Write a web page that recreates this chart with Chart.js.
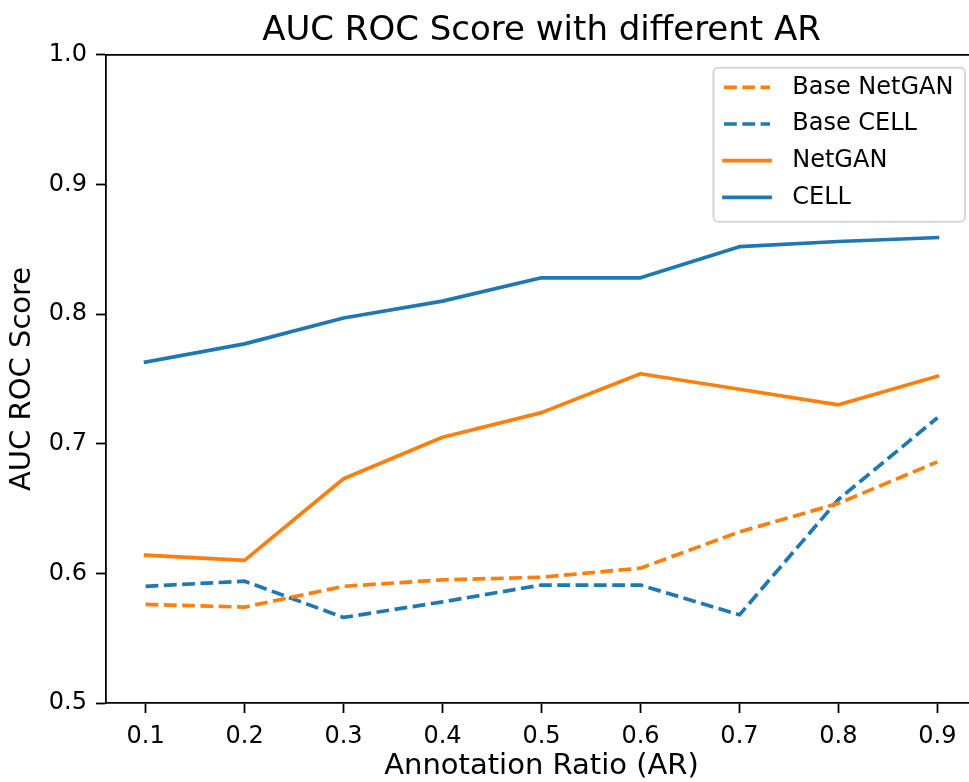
<!DOCTYPE html>
<html>
<head>
<meta charset="utf-8">
<title>AUC ROC Score with different AR</title>
<script src="https://cdn.jsdelivr.net/npm/chart.js@4.4.1/dist/chart.umd.min.js"></script>
<style>
  html, body { margin: 0; padding: 0; background: #fff; overflow: hidden; }
  #wrap { width: 969px; height: 782px; overflow: hidden; position: relative; }
  #chart { display: block; }
</style>
</head>
<body>
<div id="wrap"><canvas id="chart" width="980" height="782"></canvas></div>
<script>
// data
const ratios = [0.1, 0.2, 0.3, 0.4, 0.5, 0.6, 0.7, 0.8, 0.9];
const baseNetgan = [0.576, 0.574, 0.590, 0.595, 0.597, 0.604, 0.632, 0.654, 0.686];
const baseCell = [0.590, 0.594, 0.566, 0.578, 0.591, 0.591, 0.568, 0.657, 0.720];
const netgan = [0.614, 0.610, 0.673, 0.705, 0.724, 0.754, 0.742, 0.730, 0.752];
const cell = [0.763, 0.777, 0.797, 0.810, 0.828, 0.828, 0.852, 0.856, 0.859];
const xTicks = [0.1, 0.2, 0.3, 0.4, 0.5, 0.6, 0.7, 0.8, 0.9];
const yTicks = [0.5, 0.6, 0.7, 0.8, 0.9, 1.0];

const ORANGE = "#ff7f0e";
const BLUE = "#1f77b4";
const LW = 3.7;
const DASH = [12.8, 5.5];

Chart.defaults.font.family = "'DejaVu Sans', sans-serif";
Chart.defaults.color = "#000";

function pts(ys) {
  return ratios.map((x, i) => ({ x: x, y: ys[i] }));
}

function line(label, ys, color, dashed) {
  return {
    label: label,
    data: pts(ys),
    borderColor: color,
    backgroundColor: color,
    borderWidth: LW,
    borderDash: dashed ? DASH : [],
    borderCapStyle: dashed ? "butt" : "square",
    borderJoinStyle: "round",
    pointRadius: 0,
    tension: 0,
    fill: false
  };
}

// top/right spines
const frame = {
  id: "frame",
  afterDraw(chart) {
    const { ctx, chartArea: a } = chart;
    ctx.save();
    ctx.strokeStyle = "#000";
    ctx.lineWidth = 1.8;
    ctx.beginPath();
    ctx.moveTo(a.left, a.top);
    ctx.lineTo(a.right, a.top);
    ctx.lineTo(a.right, a.bottom);
    ctx.stroke();
    ctx.restore();
  }
};

// matplotlib-like legend box in the upper right
const legendBox = {
  id: "legendBox",
  afterDraw(chart) {
    const { ctx, chartArea: a } = chart;
    const sets = chart.data.datasets;
    const fs = 24, pad = 9.6, handle = 48, textPad = 19.2, rowH = 36.7;
    ctx.save();
    ctx.font = fs + "px 'DejaVu Sans'";
    const tw = Math.max(...sets.map(d => ctx.measureText(d.label).width));
    const w = pad * 2 + handle + textPad + tw + 4;
    const h = 154;
    const right = a.right - 12;
    const left = right - w;
    const top = a.top + 13;

    ctx.fillStyle = "rgba(255,255,255,0.8)";
    ctx.strokeStyle = "#d6d6d6";
    ctx.lineWidth = 2;
    ctx.beginPath();
    ctx.roundRect(left, top, w, h, 5);
    ctx.fill();
    ctx.stroke();

    sets.forEach((d, i) => {
      const cy = top + 19.5 + i * rowH;
      ctx.strokeStyle = d.borderColor;
      ctx.lineWidth = d.borderWidth;
      ctx.setLineDash(d.borderDash);
      ctx.lineCap = d.borderDash.length ? "butt" : "square";
      ctx.beginPath();
      ctx.moveTo(left + pad + 1, cy);
      ctx.lineTo(left + pad + handle - 1, cy);
      ctx.stroke();
      ctx.setLineDash([]);
      ctx.fillStyle = "#000";
      ctx.textAlign = "left";
      ctx.textBaseline = "middle";
      ctx.fillText(d.label, left + pad + handle + textPad + 2, cy);
    });
    ctx.restore();
  }
};

new Chart(document.getElementById("chart"), {
  type: "line",
  data: {
    datasets: [
      line("Base NetGAN", baseNetgan, ORANGE, true),
      line("Base CELL", baseCell, BLUE, true),
      line("NetGAN", netgan, ORANGE, false),
      line("CELL", cell, BLUE, false)
    ]
  },
  options: {
    responsive: false,
    animation: false,
    events: [],
    layout: { padding: { left: 0, right: 3, top: 0, bottom: 0 } },
    plugins: {
      legend: { display: false },
      tooltip: { enabled: false },
      title: {
        display: true,
        fullSize: false,   // centre over the axes, like matplotlib
        text: "AUC ROC Score with different AR",
        color: "#000",
        font: { size: 34, weight: "normal" },
        padding: { top: 11, bottom: 3 }
      }
    },
    scales: {
      x: {
        type: "linear",
        min: 0.06,
        max: 0.94,
        afterBuildTicks: s => { s.ticks = xTicks.map(v => ({ value: v })); },
        afterFit: s => { s.height = 79; },
        ticks: {
          font: { size: 24 },
          color: "#000",
          padding: 9,
          maxRotation: 0,
          callback: v => v.toFixed(1)
        },
        grid: {
          drawOnChartArea: false,
          drawTicks: true,
          tickLength: 10,
          tickWidth: 1.8,
          tickColor: "#000"
        },
        border: { display: true, color: "#000", width: 1.8 },
        title: {
          display: true,
          text: "Annotation Ratio (AR)",
          color: "#000",
          font: { size: 29, lineHeight: 1.1 },
          padding: { top: 0, bottom: 0 }
        }
      },
      y: {
        type: "linear",
        min: 0.5,
        max: 1.0,
        afterBuildTicks: s => { s.ticks = yTicks.map(v => ({ value: v })); },
        afterFit: s => { s.width = 106; },
        ticks: {
          font: { size: 24 },
          color: "#000",
          padding: 9,
          callback: v => v.toFixed(1)
        },
        grid: {
          drawOnChartArea: false,
          drawTicks: true,
          tickLength: 10,
          tickWidth: 1.8,
          tickColor: "#000"
        },
        border: { display: true, color: "#000", width: 1.8 },
        title: {
          display: true,
          text: "AUC ROC Score",
          color: "#000",
          font: { size: 29 },
          padding: { top: 5, bottom: 0 }
        }
      }
    }
  },
  plugins: [frame, legendBox]
});
</script>
</body>
</html>
